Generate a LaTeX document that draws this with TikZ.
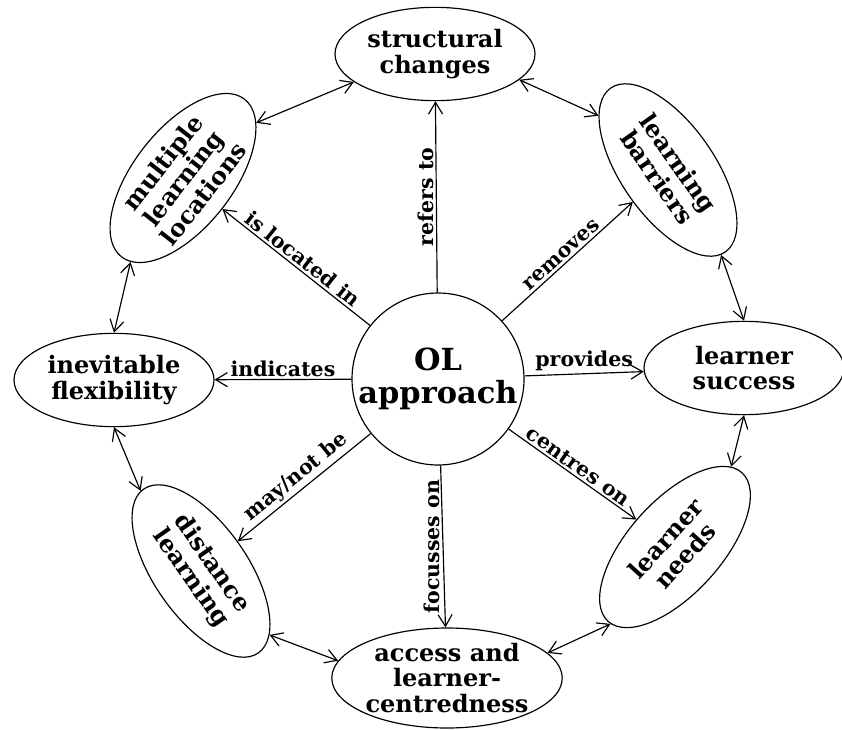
\documentclass[tikz,border=0pt]{standalone}
\usepackage{fontspec}
\setmainfont{DejaVu Serif}
\usetikzlibrary{shapes.geometric,arrows.meta}

\tikzset{
  concept/.style={draw,ellipse,line width=1pt,inner sep=0pt,minimum width=6cm,minimum height=2.8cm,
    align=center,font=\fontsize{20.5}{22}\selectfont\bfseries},
  hub/.style={draw,circle,line width=1pt,inner sep=0pt,minimum size=5.16cm,
    align=center,font=\fontsize{26}{28}\selectfont\bfseries},
  barb/.tip={Straight Barb[length=10pt,width=12pt,line width=1pt]},
  link/.style={-barb,line width=1pt},
  ring/.style={barb-barb,line width=1pt},
  lbl/.style={font=\fontsize{17.5}{18}\selectfont\bfseries,inner sep=2pt}
}

\begin{document}
\begin{tikzpicture}
\useasboundingbox (0,0) rectangle (25.26,-21.87);

\node[hub] (ol) at (13.14,-11.37) {OL\\approach};

\node[concept] (struct) at (13.05,-1.62) {structural\\changes};
\node[concept,rotate=-55] (barr) at (20.04,-5.10) {learning\\barriers};
\node[concept] (succ) at (22.32,-11.04) {learner\\success};
\node[concept,rotate=48] (needs) at (20.25,-16.41) {learner\\needs};
\node[concept,minimum width=6.6cm,minimum height=3cm] (access) at (13.41,-20.34) {access and\\learner-\\centredness};
\node[concept,rotate=-55] (dist) at (6.03,-17.13) {distance\\learning};
\node[concept] (flex) at (3.42,-11.40) {inevitable\\flexibility};
\node[concept,rotate=52] (multi) at (5.49,-5.34) {multiple\\learning\\locations};

% spokes
\draw[link] (ol) -- node[lbl,midway,above,rotate=90]{refers to} (struct);
\draw[link] (ol) -- node[lbl,midway,above,sloped]{removes} (barr);
\draw[link] (ol) -- node[lbl,midway,above]{provides} (succ);
\draw[link] (ol) -- node[lbl,midway,above,sloped]{centres on} (needs);
\draw[link] (ol) -- node[lbl,midway,above,rotate=90]{focusses on} (access);
\draw[link] (ol) -- node[lbl,midway,above,sloped]{may/not be} (dist);
\draw[link] (ol) -- node[lbl,midway,above]{indicates} (flex);
\draw[link] (ol) -- node[lbl,midway,above,sloped]{is located in} (multi);

% outer ring
\draw[ring] (multi.-15) -- (struct.199);
\draw[ring] (struct.-17) -- (barr.197);
\draw[ring] (barr.-3) -- (succ.90);
\draw[ring] (succ.-90) -- (needs.7);
\draw[ring] (needs.182) -- (access.14);
\draw[ring] (access.171) -- (dist.12);
\draw[ring] (dist.182) -- (flex.270);
\draw[ring] (flex.90) -- (multi.186);
\end{tikzpicture}
\end{document}
